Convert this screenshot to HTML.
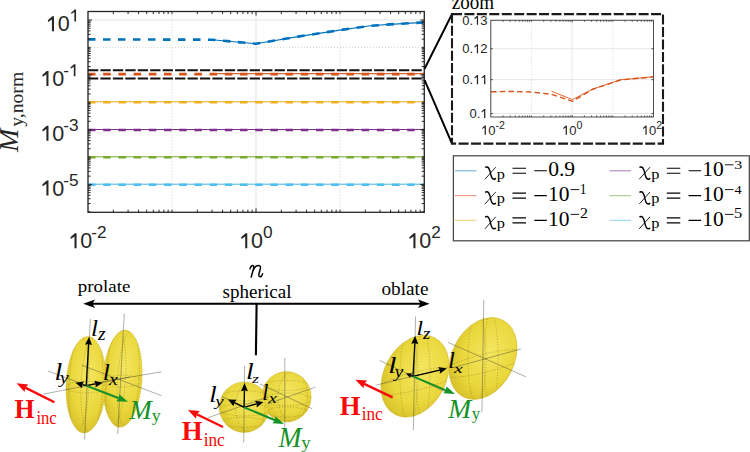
<!DOCTYPE html>
<html><head><meta charset="utf-8"><style>html,body{margin:0;padding:0;background:#fff;overflow:hidden}svg{display:block}</style></head>
<body><svg width="750" height="452" viewBox="0 0 750 452">
<defs>
<radialGradient id="yl" cx="0.55" cy="0.4" r="0.65"><stop offset="0" stop-color="#f4e660"/><stop offset="0.65" stop-color="#ead73c"/><stop offset="1" stop-color="#d4bd28"/></radialGradient>
</defs>
<rect x="0" y="0" width="750" height="452" fill="#fff"/><line x1="88.00" y1="11.5" x2="88.00" y2="212.3" stroke="#e3e3e3" stroke-width="1"/><line x1="256.00" y1="11.5" x2="256.00" y2="212.3" stroke="#e3e3e3" stroke-width="1"/><line x1="424.00" y1="11.5" x2="424.00" y2="212.3" stroke="#e3e3e3" stroke-width="1"/><line x1="172.00" y1="11.5" x2="172.00" y2="212.3" stroke="#c8c8c8" stroke-width="0.8" stroke-dasharray="1 2"/><line x1="340.00" y1="11.5" x2="340.00" y2="212.3" stroke="#c8c8c8" stroke-width="0.8" stroke-dasharray="1 2"/><line x1="88.0" y1="20.00" x2="424.3" y2="20.00" stroke="#e3e3e3" stroke-width="1"/><line x1="88.0" y1="74.80" x2="424.3" y2="74.80" stroke="#e3e3e3" stroke-width="1"/><line x1="88.0" y1="129.60" x2="424.3" y2="129.60" stroke="#e3e3e3" stroke-width="1"/><line x1="88.0" y1="184.40" x2="424.3" y2="184.40" stroke="#e3e3e3" stroke-width="1"/><line x1="88.0" y1="47.40" x2="424.3" y2="47.40" stroke="#c8c8c8" stroke-width="0.8" stroke-dasharray="1 2"/><line x1="88.0" y1="102.20" x2="424.3" y2="102.20" stroke="#c8c8c8" stroke-width="0.8" stroke-dasharray="1 2"/><line x1="88.0" y1="157.00" x2="424.3" y2="157.00" stroke="#c8c8c8" stroke-width="0.8" stroke-dasharray="1 2"/><polyline points="212.00,39.80 256.00,43.80 298.00,36.60 340.00,30.10 370.00,25.80 394.00,24.10 424.00,22.40" fill="none" stroke="#0072BD" stroke-width="1.1"/><polyline points="88.00,39.40 212.00,39.70 256.00,43.80 298.00,36.60 340.00,30.10 370.00,25.80 394.00,24.10 424.00,22.40" fill="none" stroke="#0072BD" stroke-width="2.6" stroke-dasharray="7.5 7.5"/><line x1="212" y1="73.6" x2="424.3" y2="73.6" stroke="#D95319" stroke-width="1"/><line x1="88.0" y1="74.1" x2="424.3" y2="74.1" stroke="#D95319" stroke-width="2.6" stroke-dasharray="7.5 7.7"/><line x1="88" y1="101.7" x2="424.3" y2="101.7" stroke="#EDB120" stroke-width="1"/><line x1="88.0" y1="102.2" x2="424.3" y2="102.2" stroke="#EDB120" stroke-width="2.6" stroke-dasharray="7.5 7.7"/><line x1="88" y1="129.5" x2="424.3" y2="129.5" stroke="#7E2F8E" stroke-width="1"/><line x1="88.0" y1="130.0" x2="424.3" y2="130.0" stroke="#7E2F8E" stroke-width="2.6" stroke-dasharray="7.5 7.7"/><line x1="88" y1="156.8" x2="424.3" y2="156.8" stroke="#77AC30" stroke-width="1"/><line x1="88.0" y1="157.3" x2="424.3" y2="157.3" stroke="#77AC30" stroke-width="2.6" stroke-dasharray="7.5 7.7"/><line x1="88" y1="184.2" x2="424.3" y2="184.2" stroke="#4DBEEE" stroke-width="1"/><line x1="88.0" y1="184.7" x2="424.3" y2="184.7" stroke="#4DBEEE" stroke-width="2.6" stroke-dasharray="7.5 7.7"/><line x1="88.0" y1="70.2" x2="422.3" y2="70.2" stroke="#111" stroke-width="2" stroke-dasharray="10.3 2.14"/><line x1="88.0" y1="78.4" x2="422.3" y2="78.4" stroke="#111" stroke-width="2" stroke-dasharray="10.3 2.14"/><rect x="88.0" y="11.5" width="336.30" height="200.80" fill="none" stroke="#262626" stroke-width="1.3"/><path d="M113.29,212.3v-2.6M113.29,11.5v2.6M128.08,212.3v-2.6M128.08,11.5v2.6M138.57,212.3v-2.6M138.57,11.5v2.6M146.71,212.3v-2.6M146.71,11.5v2.6M153.36,212.3v-2.6M153.36,11.5v2.6M158.99,212.3v-2.6M158.99,11.5v2.6M163.86,212.3v-2.6M163.86,11.5v2.6M168.16,212.3v-2.6M168.16,11.5v2.6M172.00,212.3v-2.6M172.00,11.5v2.6M197.29,212.3v-2.6M197.29,11.5v2.6M212.08,212.3v-2.6M212.08,11.5v2.6M222.57,212.3v-2.6M222.57,11.5v2.6M230.71,212.3v-2.6M230.71,11.5v2.6M237.36,212.3v-2.6M237.36,11.5v2.6M242.99,212.3v-2.6M242.99,11.5v2.6M247.86,212.3v-2.6M247.86,11.5v2.6M252.16,212.3v-2.6M252.16,11.5v2.6M256.00,212.3v-4.0M256.00,11.5v4.0M281.29,212.3v-2.6M281.29,11.5v2.6M296.08,212.3v-2.6M296.08,11.5v2.6M306.57,212.3v-2.6M306.57,11.5v2.6M314.71,212.3v-2.6M314.71,11.5v2.6M321.36,212.3v-2.6M321.36,11.5v2.6M326.99,212.3v-2.6M326.99,11.5v2.6M331.86,212.3v-2.6M331.86,11.5v2.6M336.16,212.3v-2.6M336.16,11.5v2.6M340.00,212.3v-2.6M340.00,11.5v2.6M365.29,212.3v-2.6M365.29,11.5v2.6M380.08,212.3v-2.6M380.08,11.5v2.6M390.57,212.3v-2.6M390.57,11.5v2.6M398.71,212.3v-2.6M398.71,11.5v2.6M405.36,212.3v-2.6M405.36,11.5v2.6M410.99,212.3v-2.6M410.99,11.5v2.6M415.86,212.3v-2.6M415.86,11.5v2.6M420.16,212.3v-2.6M420.16,11.5v2.6M88.0,211.80h2.6M424.3,211.80h-2.6M88.0,203.55h2.6M424.3,203.55h-2.6M88.0,198.73h2.6M424.3,198.73h-2.6M88.0,195.30h2.6M424.3,195.30h-2.6M88.0,192.65h2.6M424.3,192.65h-2.6M88.0,190.48h2.6M424.3,190.48h-2.6M88.0,188.64h2.6M424.3,188.64h-2.6M88.0,187.06h2.6M424.3,187.06h-2.6M88.0,185.65h2.6M424.3,185.65h-2.6M88.0,184.40h4.0M424.3,184.40h-4.0M88.0,176.15h2.6M424.3,176.15h-2.6M88.0,171.33h2.6M424.3,171.33h-2.6M88.0,167.90h2.6M424.3,167.90h-2.6M88.0,165.25h2.6M424.3,165.25h-2.6M88.0,163.08h2.6M424.3,163.08h-2.6M88.0,161.24h2.6M424.3,161.24h-2.6M88.0,159.66h2.6M424.3,159.66h-2.6M88.0,158.25h2.6M424.3,158.25h-2.6M88.0,157.00h2.6M424.3,157.00h-2.6M88.0,148.75h2.6M424.3,148.75h-2.6M88.0,143.93h2.6M424.3,143.93h-2.6M88.0,140.50h2.6M424.3,140.50h-2.6M88.0,137.85h2.6M424.3,137.85h-2.6M88.0,135.68h2.6M424.3,135.68h-2.6M88.0,133.84h2.6M424.3,133.84h-2.6M88.0,132.26h2.6M424.3,132.26h-2.6M88.0,130.85h2.6M424.3,130.85h-2.6M88.0,129.60h4.0M424.3,129.60h-4.0M88.0,121.35h2.6M424.3,121.35h-2.6M88.0,116.53h2.6M424.3,116.53h-2.6M88.0,113.10h2.6M424.3,113.10h-2.6M88.0,110.45h2.6M424.3,110.45h-2.6M88.0,108.28h2.6M424.3,108.28h-2.6M88.0,106.44h2.6M424.3,106.44h-2.6M88.0,104.86h2.6M424.3,104.86h-2.6M88.0,103.45h2.6M424.3,103.45h-2.6M88.0,102.20h2.6M424.3,102.20h-2.6M88.0,93.95h2.6M424.3,93.95h-2.6M88.0,89.13h2.6M424.3,89.13h-2.6M88.0,85.70h2.6M424.3,85.70h-2.6M88.0,83.05h2.6M424.3,83.05h-2.6M88.0,80.88h2.6M424.3,80.88h-2.6M88.0,79.04h2.6M424.3,79.04h-2.6M88.0,77.46h2.6M424.3,77.46h-2.6M88.0,76.05h2.6M424.3,76.05h-2.6M88.0,74.80h4.0M424.3,74.80h-4.0M88.0,66.55h2.6M424.3,66.55h-2.6M88.0,61.73h2.6M424.3,61.73h-2.6M88.0,58.30h2.6M424.3,58.30h-2.6M88.0,55.65h2.6M424.3,55.65h-2.6M88.0,53.48h2.6M424.3,53.48h-2.6M88.0,51.64h2.6M424.3,51.64h-2.6M88.0,50.06h2.6M424.3,50.06h-2.6M88.0,48.65h2.6M424.3,48.65h-2.6M88.0,47.40h2.6M424.3,47.40h-2.6M88.0,39.15h2.6M424.3,39.15h-2.6M88.0,34.33h2.6M424.3,34.33h-2.6M88.0,30.90h2.6M424.3,30.90h-2.6M88.0,28.25h2.6M424.3,28.25h-2.6M88.0,26.08h2.6M424.3,26.08h-2.6M88.0,24.24h2.6M424.3,24.24h-2.6M88.0,22.66h2.6M424.3,22.66h-2.6M88.0,21.25h2.6M424.3,21.25h-2.6M88.0,20.00h4.0M424.3,20.00h-4.0" stroke="#262626" stroke-width="1" fill="none"/><path d="M53.97,31.30L53.97,16.25L52.25,16.25L47.80,20.25L48.16,22.05L51.91,19.48L51.91,31.30Z" fill="#262626"/><text x="57.75" y="31.30" style="font-family:'Liberation Sans',sans-serif;font-size:21.5px" fill="#262626">0</text><path d="M76.04,21.50L76.04,9.46L74.66,9.46L71.10,12.66L71.39,14.10L74.38,12.04L74.38,21.50Z" fill="#262626"/><path d="M48.47,86.00L48.47,70.95L46.75,70.95L42.30,74.95L42.66,76.75L46.41,74.17L46.41,86.00Z" fill="#262626"/><text x="52.25" y="86.00" style="font-family:'Liberation Sans',sans-serif;font-size:21.5px" fill="#262626">0</text><text x="63.20" y="76.20" style="font-family:'Liberation Sans',sans-serif;font-size:17.2px" fill="#262626">-</text><path d="M75.46,76.20L75.46,64.16L74.09,64.16L70.53,67.36L70.82,68.80L73.81,66.74L73.81,76.20Z" fill="#262626"/><path d="M48.47,140.80L48.47,125.75L46.75,125.75L42.30,129.75L42.66,131.56L46.41,128.98L46.41,140.80Z" fill="#262626"/><text x="52.25" y="140.80" style="font-family:'Liberation Sans',sans-serif;font-size:21.5px" fill="#262626">0</text><text x="63.20" y="131.00" style="font-family:'Liberation Sans',sans-serif;font-size:17.2px" fill="#262626">-</text><text x="68.93" y="131.00" style="font-family:'Liberation Sans',sans-serif;font-size:17.2px" fill="#262626">3</text><path d="M48.47,195.60L48.47,180.55L46.75,180.55L42.30,184.55L42.66,186.35L46.41,183.78L46.41,195.60Z" fill="#262626"/><text x="52.25" y="195.60" style="font-family:'Liberation Sans',sans-serif;font-size:21.5px" fill="#262626">0</text><text x="63.20" y="185.80" style="font-family:'Liberation Sans',sans-serif;font-size:17.2px" fill="#262626">-</text><text x="68.93" y="185.80" style="font-family:'Liberation Sans',sans-serif;font-size:17.2px" fill="#262626">5</text><path d="M76.57,248.30L76.57,233.25L74.85,233.25L70.40,237.25L70.77,239.06L74.51,236.48L74.51,248.30Z" fill="#262626"/><text x="80.35" y="248.30" style="font-family:'Liberation Sans',sans-serif;font-size:21.5px" fill="#262626">0</text><text x="91.20" y="237.90" style="font-family:'Liberation Sans',sans-serif;font-size:17.2px" fill="#262626">-</text><text x="96.93" y="237.90" style="font-family:'Liberation Sans',sans-serif;font-size:17.2px" fill="#262626">2</text><path d="M247.27,248.30L247.27,233.25L245.55,233.25L241.10,237.25L241.47,239.06L245.21,236.48L245.21,248.30Z" fill="#262626"/><text x="251.05" y="248.30" style="font-family:'Liberation Sans',sans-serif;font-size:21.5px" fill="#262626">0</text><text x="263.10" y="237.90" style="font-family:'Liberation Sans',sans-serif;font-size:17.2px" fill="#262626">0</text><path d="M415.47,248.30L415.47,233.25L413.75,233.25L409.30,237.25L409.66,239.06L413.41,236.48L413.41,248.30Z" fill="#262626"/><text x="419.25" y="248.30" style="font-family:'Liberation Sans',sans-serif;font-size:21.5px" fill="#262626">0</text><text x="431.30" y="237.90" style="font-family:'Liberation Sans',sans-serif;font-size:17.2px" fill="#262626">2</text><g transform="translate(17.9,152) rotate(-90)"><text x="0.00" y="0.00" style="font-family:'Liberation Serif',serif;font-style:italic;font-size:28px" fill="#262626" text-anchor="start" textLength="23.30" lengthAdjust="spacingAndGlyphs">M</text><text x="25.20" y="5.00" style="font-family:'Liberation Serif',serif;font-size:19px" fill="#262626" text-anchor="start" textLength="55.00" lengthAdjust="spacingAndGlyphs">y,norm</text></g><path d="M424.6,68.7L452,14.1M424.6,80.2L452,143.6" stroke="#000" stroke-width="2" fill="none"/><rect x="452" y="14.1" width="211" height="129.5" fill="none" stroke="#1a1a1a" stroke-width="2.1" stroke-dasharray="10 2.44"/><text transform="translate(451.73,8.80) scale(0.952,1)" style="font-family:'Liberation Serif',serif;font-size:20.00px;font-style:normal;font-weight:normal" fill="#000">zoom</text><line x1="490.80" y1="20.29" x2="490.80" y2="117.0" stroke="#e3e3e3" stroke-width="0.9"/><line x1="572.15" y1="20.29" x2="572.15" y2="117.0" stroke="#e3e3e3" stroke-width="0.9"/><line x1="653.50" y1="20.29" x2="653.50" y2="117.0" stroke="#e3e3e3" stroke-width="0.9"/><line x1="531.48" y1="20.29" x2="531.48" y2="117.0" stroke="#c8c8c8" stroke-width="0.7" stroke-dasharray="1 2"/><line x1="612.83" y1="20.29" x2="612.83" y2="117.0" stroke="#c8c8c8" stroke-width="0.7" stroke-dasharray="1 2"/><line x1="490.8" y1="113.50" x2="653.5" y2="113.50" stroke="#e3e3e3" stroke-width="0.9"/><line x1="490.8" y1="79.64" x2="653.5" y2="79.64" stroke="#e3e3e3" stroke-width="0.9"/><line x1="490.8" y1="48.73" x2="653.5" y2="48.73" stroke="#e3e3e3" stroke-width="0.9"/><line x1="490.8" y1="20.29" x2="653.5" y2="20.29" stroke="#e3e3e3" stroke-width="0.9"/><polyline points="551.50,91.30 572.50,99.60 592.30,89.20 620.30,79.80 653.00,76.80" fill="none" stroke="#D95319" stroke-width="0.9"/><polyline points="491.00,91.80 510.00,91.40 531.70,92.00 551.50,94.30 572.50,101.30 592.30,89.50 620.30,80.00 653.00,76.90" fill="none" stroke="#D95319" stroke-width="1.4" stroke-dasharray="5.5 3.2"/><rect x="490.8" y="20.29" width="162.70" height="96.71" fill="none" stroke="#505050" stroke-width="1"/><path d="M503.04,117.0v-1.4M503.04,20.29v1.4M510.21,117.0v-1.4M510.21,20.29v1.4M515.29,117.0v-1.4M515.29,20.29v1.4M519.23,117.0v-1.4M519.23,20.29v1.4M522.45,117.0v-1.4M522.45,20.29v1.4M525.17,117.0v-1.4M525.17,20.29v1.4M527.53,117.0v-1.4M527.53,20.29v1.4M529.61,117.0v-1.4M529.61,20.29v1.4M531.48,117.0v-1.4M531.48,20.29v1.4M543.72,117.0v-1.4M543.72,20.29v1.4M550.88,117.0v-1.4M550.88,20.29v1.4M555.96,117.0v-1.4M555.96,20.29v1.4M559.91,117.0v-1.4M559.91,20.29v1.4M563.13,117.0v-1.4M563.13,20.29v1.4M565.85,117.0v-1.4M565.85,20.29v1.4M568.21,117.0v-1.4M568.21,20.29v1.4M570.29,117.0v-1.4M570.29,20.29v1.4M572.15,117.0v-2.0M572.15,20.29v2.0M584.39,117.0v-1.4M584.39,20.29v1.4M591.56,117.0v-1.4M591.56,20.29v1.4M596.64,117.0v-1.4M596.64,20.29v1.4M600.58,117.0v-1.4M600.58,20.29v1.4M603.80,117.0v-1.4M603.80,20.29v1.4M606.52,117.0v-1.4M606.52,20.29v1.4M608.88,117.0v-1.4M608.88,20.29v1.4M610.96,117.0v-1.4M610.96,20.29v1.4M612.83,117.0v-1.4M612.83,20.29v1.4M625.07,117.0v-1.4M625.07,20.29v1.4M632.23,117.0v-1.4M632.23,20.29v1.4M637.31,117.0v-1.4M637.31,20.29v1.4M641.26,117.0v-1.4M641.26,20.29v1.4M644.48,117.0v-1.4M644.48,20.29v1.4M647.20,117.0v-1.4M647.20,20.29v1.4M649.56,117.0v-1.4M649.56,20.29v1.4M651.64,117.0v-1.4M651.64,20.29v1.4M490.8,113.50h2M653.5,113.50h-2M490.8,79.64h2M653.5,79.64h-2M490.8,48.73h2M653.5,48.73h-2" stroke="#333" stroke-width="0.9" fill="none"/><text x="462.30" y="24.79" style="font-family:'Liberation Sans',sans-serif;font-size:13.0px" fill="#262626">0</text><text x="469.53" y="24.79" style="font-family:'Liberation Sans',sans-serif;font-size:13.0px" fill="#262626">.</text><path d="M478.08,24.79L478.08,15.69L477.04,15.69L474.35,18.11L474.57,19.20L476.84,17.64L476.84,24.79Z" fill="#262626"/><text x="480.37" y="24.79" style="font-family:'Liberation Sans',sans-serif;font-size:13.0px" fill="#262626">3</text><text x="462.30" y="53.23" style="font-family:'Liberation Sans',sans-serif;font-size:13.0px" fill="#262626">0</text><text x="469.53" y="53.23" style="font-family:'Liberation Sans',sans-serif;font-size:13.0px" fill="#262626">.</text><path d="M478.08,53.23L478.08,44.13L477.04,44.13L474.35,46.55L474.57,47.64L476.84,46.08L476.84,53.23Z" fill="#262626"/><text x="480.37" y="53.23" style="font-family:'Liberation Sans',sans-serif;font-size:13.0px" fill="#262626">2</text><text x="462.30" y="84.14" style="font-family:'Liberation Sans',sans-serif;font-size:13.0px" fill="#262626">0</text><text x="469.53" y="84.14" style="font-family:'Liberation Sans',sans-serif;font-size:13.0px" fill="#262626">.</text><path d="M478.08,84.14L478.08,75.04L477.04,75.04L474.35,77.46L474.57,78.55L476.84,76.99L476.84,84.14Z" fill="#262626"/><path d="M485.31,84.14L485.31,75.04L484.27,75.04L481.58,77.46L481.80,78.55L484.06,76.99L484.06,84.14Z" fill="#262626"/><text x="469.53" y="118.00" style="font-family:'Liberation Sans',sans-serif;font-size:13.0px" fill="#262626">0</text><text x="476.76" y="118.00" style="font-family:'Liberation Sans',sans-serif;font-size:13.0px" fill="#262626">.</text><path d="M485.31,118.00L485.31,108.90L484.27,108.90L481.58,111.32L481.80,112.41L484.06,110.85L484.06,118.00Z" fill="#262626"/><path d="M485.90,134.70L485.90,125.60L484.86,125.60L482.17,128.02L482.39,129.11L484.65,127.55L484.65,134.70Z" fill="#262626"/><text x="488.19" y="134.70" style="font-family:'Liberation Sans',sans-serif;font-size:13.0px" fill="#262626">0</text><text x="495.42" y="128.70" style="font-family:'Liberation Sans',sans-serif;font-size:10.6px" fill="#262626">-</text><text x="498.95" y="128.70" style="font-family:'Liberation Sans',sans-serif;font-size:10.6px" fill="#262626">2</text><path d="M566.92,134.70L566.92,125.60L565.88,125.60L563.18,128.02L563.41,129.11L565.67,127.55L565.67,134.70Z" fill="#262626"/><text x="569.20" y="134.70" style="font-family:'Liberation Sans',sans-serif;font-size:13.0px" fill="#262626">0</text><text x="576.43" y="128.70" style="font-family:'Liberation Sans',sans-serif;font-size:10.6px" fill="#262626">0</text><path d="M646.67,134.70L646.67,125.60L645.63,125.60L642.93,128.02L643.16,129.11L645.42,127.55L645.42,134.70Z" fill="#262626"/><text x="648.95" y="134.70" style="font-family:'Liberation Sans',sans-serif;font-size:13.0px" fill="#262626">0</text><text x="656.18" y="128.70" style="font-family:'Liberation Sans',sans-serif;font-size:10.6px" fill="#262626">2</text><rect x="453.4" y="155.8" width="295.9" height="85.0" fill="#fff" stroke="#484848" stroke-width="1.25"/><line x1="455" y1="170.80" x2="476.5" y2="170.80" stroke="#7fb8de" stroke-width="1.2"/><g transform="translate(482.00,164.00)"><path d="M3.2,3.6C4,2.8 5.5,2.6 6.6,4C7.8,5.6 8.3,8 8.8,10.5C9.4,13 10.3,14.9 11.8,15.2C12.7,15.3 13.4,14.8 13.7,14.1" stroke="#000" stroke-width="1.45" fill="none"/><path d="M13.7,3.2L2.9,15.3" stroke="#000" stroke-width="0.85" fill="none"/></g><text transform="translate(496.87,178.50) scale(1.099,1)" style="font-family:'Liberation Serif',serif;font-size:14.89px;font-style:normal;font-weight:normal" fill="#000">p</text><path d="M512.50,168.30H526.00M512.50,173.30H526.00M534.30,170.80H546.80" stroke="#000" stroke-width="1.1" fill="none"/><text transform="translate(548.14,176.10) scale(1.019,1)" style="font-family:'Liberation Serif',serif;font-size:21.21px;font-style:normal;font-weight:normal" fill="#000">0.9</text><line x1="455" y1="195.60" x2="476.5" y2="195.60" stroke="#ec9f80" stroke-width="1.2"/><g transform="translate(482.00,188.80)"><path d="M3.2,3.6C4,2.8 5.5,2.6 6.6,4C7.8,5.6 8.3,8 8.8,10.5C9.4,13 10.3,14.9 11.8,15.2C12.7,15.3 13.4,14.8 13.7,14.1" stroke="#000" stroke-width="1.45" fill="none"/><path d="M13.7,3.2L2.9,15.3" stroke="#000" stroke-width="0.85" fill="none"/></g><text transform="translate(496.87,203.30) scale(1.099,1)" style="font-family:'Liberation Serif',serif;font-size:14.89px;font-style:normal;font-weight:normal" fill="#000">p</text><path d="M512.50,193.10H526.00M512.50,198.10H526.00M534.30,195.60H546.80" stroke="#000" stroke-width="1.1" fill="none"/><text transform="translate(548.07,200.90) scale(0.999,1)" style="font-family:'Liberation Serif',serif;font-size:21.52px;font-style:normal;font-weight:normal" fill="#000">10</text><path d="M570.60,189.60H579.20" stroke="#000" stroke-width="0.9" fill="none"/><text transform="translate(579.79,193.60) scale(0.974,1)" style="font-family:'Liberation Serif',serif;font-size:13.79px;font-style:normal;font-weight:normal" fill="#000">1</text><line x1="455" y1="220.40" x2="476.5" y2="220.40" stroke="#f5d78a" stroke-width="1.2"/><g transform="translate(482.00,213.60)"><path d="M3.2,3.6C4,2.8 5.5,2.6 6.6,4C7.8,5.6 8.3,8 8.8,10.5C9.4,13 10.3,14.9 11.8,15.2C12.7,15.3 13.4,14.8 13.7,14.1" stroke="#000" stroke-width="1.45" fill="none"/><path d="M13.7,3.2L2.9,15.3" stroke="#000" stroke-width="0.85" fill="none"/></g><text transform="translate(496.87,228.10) scale(1.099,1)" style="font-family:'Liberation Serif',serif;font-size:14.89px;font-style:normal;font-weight:normal" fill="#000">p</text><path d="M512.50,217.90H526.00M512.50,222.90H526.00M534.30,220.40H546.80" stroke="#000" stroke-width="1.1" fill="none"/><text transform="translate(548.07,225.70) scale(0.999,1)" style="font-family:'Liberation Serif',serif;font-size:21.52px;font-style:normal;font-weight:normal" fill="#000">10</text><path d="M570.60,214.40H579.20" stroke="#000" stroke-width="0.9" fill="none"/><text transform="translate(579.96,218.40) scale(1.169,1)" style="font-family:'Liberation Serif',serif;font-size:13.69px;font-style:normal;font-weight:normal" fill="#000">2</text><line x1="609.5" y1="170.80" x2="631.0" y2="170.80" stroke="#b690be" stroke-width="1.2"/><g transform="translate(636.30,164.00)"><path d="M3.2,3.6C4,2.8 5.5,2.6 6.6,4C7.8,5.6 8.3,8 8.8,10.5C9.4,13 10.3,14.9 11.8,15.2C12.7,15.3 13.4,14.8 13.7,14.1" stroke="#000" stroke-width="1.45" fill="none"/><path d="M13.7,3.2L2.9,15.3" stroke="#000" stroke-width="0.85" fill="none"/></g><text transform="translate(651.17,178.50) scale(1.099,1)" style="font-family:'Liberation Serif',serif;font-size:14.89px;font-style:normal;font-weight:normal" fill="#000">p</text><path d="M666.80,168.30H680.30M666.80,173.30H680.30M688.60,170.80H701.10" stroke="#000" stroke-width="1.1" fill="none"/><text transform="translate(702.37,176.10) scale(0.999,1)" style="font-family:'Liberation Serif',serif;font-size:21.52px;font-style:normal;font-weight:normal" fill="#000">10</text><path d="M724.90,164.80H733.50" stroke="#000" stroke-width="0.9" fill="none"/><text transform="translate(734.26,168.80) scale(1.187,1)" style="font-family:'Liberation Serif',serif;font-size:13.48px;font-style:normal;font-weight:normal" fill="#000">3</text><line x1="609.5" y1="195.60" x2="631.0" y2="195.60" stroke="#b0d290" stroke-width="1.2"/><g transform="translate(636.30,188.80)"><path d="M3.2,3.6C4,2.8 5.5,2.6 6.6,4C7.8,5.6 8.3,8 8.8,10.5C9.4,13 10.3,14.9 11.8,15.2C12.7,15.3 13.4,14.8 13.7,14.1" stroke="#000" stroke-width="1.45" fill="none"/><path d="M13.7,3.2L2.9,15.3" stroke="#000" stroke-width="0.85" fill="none"/></g><text transform="translate(651.17,203.30) scale(1.099,1)" style="font-family:'Liberation Serif',serif;font-size:14.89px;font-style:normal;font-weight:normal" fill="#000">p</text><path d="M666.80,193.10H680.30M666.80,198.10H680.30M688.60,195.60H701.10" stroke="#000" stroke-width="1.1" fill="none"/><text transform="translate(702.37,200.90) scale(0.999,1)" style="font-family:'Liberation Serif',serif;font-size:21.52px;font-style:normal;font-weight:normal" fill="#000">10</text><path d="M724.90,189.60H733.50" stroke="#000" stroke-width="0.9" fill="none"/><text transform="translate(734.62,193.60) scale(1.055,1)" style="font-family:'Liberation Serif',serif;font-size:13.48px;font-style:normal;font-weight:normal" fill="#000">4</text><line x1="609.5" y1="220.40" x2="631.0" y2="220.40" stroke="#a0dcf6" stroke-width="1.2"/><g transform="translate(636.30,213.60)"><path d="M3.2,3.6C4,2.8 5.5,2.6 6.6,4C7.8,5.6 8.3,8 8.8,10.5C9.4,13 10.3,14.9 11.8,15.2C12.7,15.3 13.4,14.8 13.7,14.1" stroke="#000" stroke-width="1.45" fill="none"/><path d="M13.7,3.2L2.9,15.3" stroke="#000" stroke-width="0.85" fill="none"/></g><text transform="translate(651.17,228.10) scale(1.099,1)" style="font-family:'Liberation Serif',serif;font-size:14.89px;font-style:normal;font-weight:normal" fill="#000">p</text><path d="M666.80,217.90H680.30M666.80,222.90H680.30M688.60,220.40H701.10" stroke="#000" stroke-width="1.1" fill="none"/><text transform="translate(702.37,225.70) scale(0.999,1)" style="font-family:'Liberation Serif',serif;font-size:21.52px;font-style:normal;font-weight:normal" fill="#000">10</text><path d="M724.90,214.40H733.50" stroke="#000" stroke-width="0.9" fill="none"/><text transform="translate(734.08,218.40) scale(1.199,1)" style="font-family:'Liberation Serif',serif;font-size:13.69px;font-style:normal;font-weight:normal" fill="#000">5</text><g transform="translate(249.7,265.1)"><path d="M0.4,3.6C0.9,1.2 2.4,0.2 3.4,0.6C4.3,1.0 4.2,2.2 3.9,3.4L1.5,11.9M2.8,7.0C4.2,2.5 6.6,0.3 8.9,0.4C10.8,0.5 11.0,2.0 10.6,3.6L9.3,8.6C8.9,10.3 9.2,11.7 10.3,11.7C11.5,11.7 12.4,10.3 12.9,8.6" stroke="#000" stroke-width="1.45" fill="none" stroke-linecap="round"/></g><text transform="translate(77.72,291.90) scale(1.080,1)" style="font-family:'Liberation Serif',serif;font-size:17.54px;font-style:normal;font-weight:normal" fill="#000">prolate</text><text transform="translate(222.54,297.90) scale(1.006,1)" style="font-family:'Liberation Serif',serif;font-size:18.99px;font-style:normal;font-weight:normal" fill="#000">spherical</text><text transform="translate(381.43,295.00) scale(1.071,1)" style="font-family:'Liberation Serif',serif;font-size:17.97px;font-style:normal;font-weight:normal" fill="#000">oblate</text><path d="M92,303.8H421M256.6,303.8L255.9,355.2" stroke="#000" stroke-width="2.1" fill="none"/><path d="M83.2,303.8L95,299.5L92.5,303.8L95,308.1Z" fill="#000"/><path d="M429.6,303.8L418,299.5L420.5,303.8L418,308.1Z" fill="#000"/><clipPath id="ec1"><ellipse cx="122.5" cy="378.7" rx="19.4" ry="48.7" transform="rotate(3.5 122.5 378.7)"/></clipPath><ellipse cx="122.5" cy="378.7" rx="19.4" ry="48.7" transform="rotate(3.5 122.5 378.7)" fill="url(#yl)" stroke="#cdb626" stroke-width="0.5"/><g clip-path="url(#ec1)"><ellipse cx="128.32" cy="378.70" rx="10.67" ry="48.21" transform="rotate(3.5 122.5 378.7)" fill="none" stroke="#5e5410" stroke-opacity="0.5" stroke-width="0.6" stroke-dasharray="1.2 1.5"/><ellipse cx="115.71" cy="378.70" rx="9.70" ry="48.21" transform="rotate(3.5 122.5 378.7)" fill="none" stroke="#5e5410" stroke-opacity="0.5" stroke-width="0.6" stroke-dasharray="1.2 1.5" stroke-opacity="0.3"/><ellipse cx="122.50" cy="381.13" rx="19.40" ry="5.84" fill="none" stroke="#5e5410" stroke-opacity="0.5" stroke-width="0.6" stroke-dasharray="1.2 1.5" stroke-opacity="0.3"/></g><clipPath id="ec2"><ellipse cx="86" cy="384.7" rx="19.9" ry="48.3" transform="rotate(2.5 86 384.7)"/></clipPath><ellipse cx="86" cy="384.7" rx="19.9" ry="48.3" transform="rotate(2.5 86 384.7)" fill="url(#yl)" stroke="#cdb626" stroke-width="0.5"/><g clip-path="url(#ec2)"><ellipse cx="91.97" cy="384.70" rx="10.95" ry="47.82" transform="rotate(2.5 86 384.7)" fill="none" stroke="#5e5410" stroke-opacity="0.5" stroke-width="0.6" stroke-dasharray="1.2 1.5"/><ellipse cx="79.03" cy="384.70" rx="9.95" ry="47.82" transform="rotate(2.5 86 384.7)" fill="none" stroke="#5e5410" stroke-opacity="0.5" stroke-width="0.6" stroke-dasharray="1.2 1.5" stroke-opacity="0.3"/><ellipse cx="86.00" cy="387.12" rx="19.90" ry="5.80" fill="none" stroke="#5e5410" stroke-opacity="0.5" stroke-width="0.6" stroke-dasharray="1.2 1.5" stroke-opacity="0.3"/></g><clipPath id="ec3"><ellipse cx="286.5" cy="396.8" rx="24.6" ry="25.2" transform="rotate(0 286.5 396.8)"/></clipPath><ellipse cx="286.5" cy="396.8" rx="24.6" ry="25.2" transform="rotate(0 286.5 396.8)" fill="url(#yl)" stroke="#cdb626" stroke-width="0.5"/><g clip-path="url(#ec3)"><ellipse cx="292.65" cy="396.80" rx="14.76" ry="24.95" fill="none" stroke="#5e5410" stroke-opacity="0.5" stroke-width="0.6" stroke-dasharray="1.2 1.5"/><ellipse cx="286.50" cy="385.46" rx="22.14" ry="5.04" fill="none" stroke="#5e5410" stroke-opacity="0.5" stroke-width="0.6" stroke-dasharray="1.2 1.5" stroke-opacity="0.35"/><ellipse cx="286.50" cy="399.32" rx="24.60" ry="6.30" fill="none" stroke="#5e5410" stroke-opacity="0.5" stroke-width="0.6" stroke-dasharray="1.2 1.5"/><ellipse cx="286.50" cy="411.92" rx="20.91" ry="5.04" fill="none" stroke="#5e5410" stroke-opacity="0.5" stroke-width="0.6" stroke-dasharray="1.2 1.5" stroke-opacity="0.35"/></g><clipPath id="ec4"><ellipse cx="244.2" cy="407.2" rx="24.9" ry="25.2" transform="rotate(0 244.2 407.2)"/></clipPath><ellipse cx="244.2" cy="407.2" rx="24.9" ry="25.2" transform="rotate(0 244.2 407.2)" fill="url(#yl)" stroke="#cdb626" stroke-width="0.5"/><g clip-path="url(#ec4)"><ellipse cx="250.42" cy="407.20" rx="14.94" ry="24.95" fill="none" stroke="#5e5410" stroke-opacity="0.5" stroke-width="0.6" stroke-dasharray="1.2 1.5"/><ellipse cx="244.20" cy="395.86" rx="22.41" ry="5.04" fill="none" stroke="#5e5410" stroke-opacity="0.5" stroke-width="0.6" stroke-dasharray="1.2 1.5" stroke-opacity="0.35"/><ellipse cx="244.20" cy="409.72" rx="24.90" ry="6.30" fill="none" stroke="#5e5410" stroke-opacity="0.5" stroke-width="0.6" stroke-dasharray="1.2 1.5"/><ellipse cx="244.20" cy="422.32" rx="21.16" ry="5.04" fill="none" stroke="#5e5410" stroke-opacity="0.5" stroke-width="0.6" stroke-dasharray="1.2 1.5" stroke-opacity="0.35"/></g><clipPath id="ec5"><ellipse cx="483" cy="358.5" rx="31.1" ry="43.2" transform="rotate(27.4 483 358.5)"/></clipPath><ellipse cx="483" cy="358.5" rx="31.1" ry="43.2" transform="rotate(27.4 483 358.5)" fill="url(#yl)" stroke="#cdb626" stroke-width="0.5"/><g clip-path="url(#ec5)"><ellipse cx="477.00" cy="358.50" rx="9" ry="45.36" fill="none" stroke="#5e5410" stroke-opacity="0.5" stroke-width="0.6" stroke-dasharray="1.2 1.5"/><ellipse cx="491.00" cy="358.50" rx="7" ry="45.36" fill="none" stroke="#5e5410" stroke-opacity="0.5" stroke-width="0.6" stroke-dasharray="1.2 1.5" stroke-opacity="0.35"/><ellipse cx="483.00" cy="363.50" rx="45.36" ry="9" transform="rotate(-14 483 358.5)" fill="none" stroke="#5e5410" stroke-opacity="0.5" stroke-width="0.6" stroke-dasharray="1.2 1.5" stroke-opacity="0.4"/></g><clipPath id="ec6"><ellipse cx="415" cy="376.2" rx="31.1" ry="43.2" transform="rotate(27.4 415 376.2)"/></clipPath><ellipse cx="415" cy="376.2" rx="31.1" ry="43.2" transform="rotate(27.4 415 376.2)" fill="url(#yl)" stroke="#cdb626" stroke-width="0.5"/><g clip-path="url(#ec6)"><ellipse cx="409.00" cy="376.20" rx="9" ry="45.36" fill="none" stroke="#5e5410" stroke-opacity="0.5" stroke-width="0.6" stroke-dasharray="1.2 1.5"/><ellipse cx="423.00" cy="376.20" rx="7" ry="45.36" fill="none" stroke="#5e5410" stroke-opacity="0.5" stroke-width="0.6" stroke-dasharray="1.2 1.5" stroke-opacity="0.35"/><ellipse cx="415.00" cy="381.20" rx="45.36" ry="9" transform="rotate(-14 415 376.2)" fill="none" stroke="#5e5410" stroke-opacity="0.5" stroke-width="0.6" stroke-dasharray="1.2 1.5" stroke-opacity="0.4"/></g><path d="M124.3,313.5L117.7,434M81.8,365.2L161.5,395.7M92,383.5L161.5,371.8" stroke="#404030" stroke-opacity="0.6" stroke-width="0.7" fill="none"/><path d="M90.4,319L84.5,439.6M47.9,371L110,394.3M43.2,394.2L130,377" stroke="#404030" stroke-opacity="0.6" stroke-width="0.7" fill="none"/><path d="M284.8,357.9L284.8,428M260,383.9L311.9,408.7M266.7,404.2L315.3,387.2" stroke="#404030" stroke-opacity="0.6" stroke-width="0.7" fill="none"/><path d="M244.6,365.8L243.7,442.6M208,417.7L268,397M222,396.5L270,419" stroke="#404030" stroke-opacity="0.6" stroke-width="0.7" fill="none"/><path d="M483.8,300L481.9,412.3M448,342.4L526.2,376.9M453.3,367.6L520.9,349" stroke="#404030" stroke-opacity="0.6" stroke-width="0.7" fill="none"/><path d="M415.5,316.5L413.4,430M376.4,385.1L447,368M379.5,360.4L447,392.7" stroke="#404030" stroke-opacity="0.6" stroke-width="0.7" fill="none"/><path d="M86.20,385.70L88.60,343.93" stroke="#000" stroke-width="1.3" fill="none"/><path d="M89.00,336.90L92.04,345.09L88.60,343.93L85.05,344.69Z" fill="#000"/><path d="M86.20,385.70L82.18,384.58" stroke="#000" stroke-width="1.3" fill="none"/><path d="M75.40,382.70L84.04,381.47L82.18,384.58L82.17,388.21Z" fill="#000"/><path d="M86.20,385.70L95.77,383.96" stroke="#000" stroke-width="1.3" fill="none"/><path d="M102.70,382.70L95.46,387.57L95.77,383.96L94.20,380.69Z" fill="#000"/><path d="M244.10,407.30L244.45,390.34" stroke="#000" stroke-width="1.3" fill="none"/><path d="M244.60,383.30L247.93,391.37L244.45,390.34L240.93,391.23Z" fill="#000"/><path d="M244.10,407.30L234.26,402.62" stroke="#000" stroke-width="1.3" fill="none"/><path d="M227.90,399.60L236.63,399.87L234.26,402.62L233.62,406.20Z" fill="#000"/><path d="M244.10,407.30L256.72,403.79" stroke="#000" stroke-width="1.3" fill="none"/><path d="M263.50,401.90L256.73,407.42L256.72,403.79L254.85,400.67Z" fill="#000"/><path d="M413.00,376.40L414.82,343.03" stroke="#000" stroke-width="1.3" fill="none"/><path d="M415.20,336.00L418.26,344.18L414.82,343.03L411.27,343.80Z" fill="#000"/><path d="M413.00,376.40L410.59,375.41" stroke="#000" stroke-width="1.3" fill="none"/><path d="M405.90,373.50L412.18,373.35L410.59,375.41L410.27,378.00Z" fill="#000"/><path d="M413.00,376.40L439.94,370.18" stroke="#000" stroke-width="1.3" fill="none"/><path d="M446.80,368.60L439.79,373.81L439.94,370.18L438.22,366.99Z" fill="#000"/><path d="M86.20,385.60L118.97,398.30" stroke="#159125" stroke-width="2.0" fill="none"/><path d="M128.00,401.80L116.39,401.32L118.97,398.30L119.10,394.33Z" fill="#159125"/><path d="M244.10,407.30L275.07,420.26" stroke="#159125" stroke-width="2.0" fill="none"/><path d="M284.00,424.00L272.41,423.21L275.07,420.26L275.30,416.29Z" fill="#159125"/><path d="M413.00,376.40L446.08,390.34" stroke="#159125" stroke-width="2.0" fill="none"/><path d="M455.00,394.10L443.41,393.28L446.08,390.34L446.32,386.37Z" fill="#159125"/><path d="M54.40,402.20L25.26,387.63" stroke="#f80808" stroke-width="2.3" fill="none"/><path d="M16.60,383.30L28.34,384.42L25.26,387.63L24.54,392.02Z" fill="#f80808"/><path d="M223.00,427.00L196.71,414.23" stroke="#f80808" stroke-width="2.3" fill="none"/><path d="M188.00,410.00L199.75,410.98L196.71,414.23L196.04,418.63Z" fill="#f80808"/><path d="M392.60,397.40L364.14,383.86" stroke="#f80808" stroke-width="2.3" fill="none"/><path d="M355.40,379.70L367.16,380.59L364.14,383.86L363.51,388.26Z" fill="#f80808"/><text transform="translate(90.97,335.50) scale(1.054,1)" style="font-family:'Liberation Serif',serif;font-size:23.91px;font-style:italic;font-weight:normal" fill="#000">l</text><text transform="translate(97.89,339.50) scale(1.055,1)" style="font-family:'Liberation Serif',serif;font-size:18.48px;font-style:italic;font-weight:normal" fill="#000">z</text><text transform="translate(54.40,379.70) scale(1.143,1)" style="font-family:'Liberation Serif',serif;font-size:24.49px;font-style:italic;font-weight:normal" fill="#000">l</text><text transform="translate(59.70,383.25) scale(1.231,1)" style="font-family:'Liberation Serif',serif;font-size:16.42px;font-style:italic;font-weight:normal" fill="#000">y</text><text transform="translate(102.86,380.10) scale(1.084,1)" style="font-family:'Liberation Serif',serif;font-size:23.62px;font-style:italic;font-weight:normal" fill="#000">l</text><text transform="translate(108.90,384.70) scale(1.137,1)" style="font-family:'Liberation Serif',serif;font-size:17.39px;font-style:italic;font-weight:normal" fill="#000">x</text><text transform="translate(246.01,379.40) scale(1.237,1)" style="font-family:'Liberation Serif',serif;font-size:22.32px;font-style:italic;font-weight:normal" fill="#000">l</text><text transform="translate(252.08,383.30) scale(1.529,1)" style="font-family:'Liberation Serif',serif;font-size:11.74px;font-style:italic;font-weight:normal" fill="#000">z</text><text transform="translate(209.13,401.90) scale(1.193,1)" style="font-family:'Liberation Serif',serif;font-size:22.46px;font-style:italic;font-weight:normal" fill="#000">l</text><text transform="translate(215.31,406.47) scale(1.272,1)" style="font-family:'Liberation Serif',serif;font-size:14.93px;font-style:italic;font-weight:normal" fill="#000">y</text><text transform="translate(262.35,400.30) scale(0.931,1)" style="font-family:'Liberation Serif',serif;font-size:23.62px;font-style:italic;font-weight:normal" fill="#000">l</text><text transform="translate(268.39,403.40) scale(1.259,1)" style="font-family:'Liberation Serif',serif;font-size:15.00px;font-style:italic;font-weight:normal" fill="#000">x</text><text transform="translate(416.51,334.50) scale(1.086,1)" style="font-family:'Liberation Serif',serif;font-size:21.74px;font-style:italic;font-weight:normal" fill="#000">l</text><text transform="translate(422.99,338.70) scale(1.179,1)" style="font-family:'Liberation Serif',serif;font-size:16.09px;font-style:italic;font-weight:normal" fill="#000">z</text><text transform="translate(388.16,372.80) scale(1.277,1)" style="font-family:'Liberation Serif',serif;font-size:23.19px;font-style:italic;font-weight:normal" fill="#000">l</text><text transform="translate(394.40,376.72) scale(1.195,1)" style="font-family:'Liberation Serif',serif;font-size:16.57px;font-style:italic;font-weight:normal" fill="#000">y</text><text transform="translate(448.31,368.40) scale(1.044,1)" style="font-family:'Liberation Serif',serif;font-size:22.61px;font-style:italic;font-weight:normal" fill="#000">l</text><text transform="translate(454.10,373.10) scale(1.467,1)" style="font-family:'Liberation Serif',serif;font-size:13.48px;font-style:italic;font-weight:normal" fill="#000">x</text><text transform="translate(14.58,417.70) scale(0.975,1)" style="font-family:'Liberation Serif',serif;font-size:26.46px;font-style:normal;font-weight:bold" fill="#f80808">H</text><text transform="translate(36.47,423.60) scale(0.891,1)" style="font-family:'Liberation Serif',serif;font-size:18.62px;font-style:normal;font-weight:normal" fill="#f80808">inc</text><text transform="translate(181.86,440.40) scale(1.005,1)" style="font-family:'Liberation Serif',serif;font-size:26.62px;font-style:normal;font-weight:bold" fill="#f80808">H</text><text transform="translate(203.65,445.90) scale(0.927,1)" style="font-family:'Liberation Serif',serif;font-size:18.62px;font-style:normal;font-weight:normal" fill="#f80808">inc</text><text transform="translate(339.86,414.60) scale(0.988,1)" style="font-family:'Liberation Serif',serif;font-size:27.08px;font-style:normal;font-weight:bold" fill="#f80808">H</text><text transform="translate(361.65,419.70) scale(0.959,1)" style="font-family:'Liberation Serif',serif;font-size:18.00px;font-style:normal;font-weight:normal" fill="#f80808">inc</text><text transform="translate(129.17,419.00) scale(0.994,1)" style="font-family:'Liberation Serif',serif;font-size:27.23px;font-style:italic;font-weight:normal" fill="#159125">M</text><text transform="translate(151.82,421.03) scale(1.028,1)" style="font-family:'Liberation Serif',serif;font-size:17.46px;font-style:normal;font-weight:normal" fill="#159125">y</text><text transform="translate(278.58,446.60) scale(0.966,1)" style="font-family:'Liberation Serif',serif;font-size:28.62px;font-style:italic;font-weight:normal" fill="#159125">M</text><text transform="translate(301.31,447.86) scale(1.096,1)" style="font-family:'Liberation Serif',serif;font-size:17.31px;font-style:normal;font-weight:normal" fill="#159125">y</text><text transform="translate(448.28,417.60) scale(1.017,1)" style="font-family:'Liberation Serif',serif;font-size:27.08px;font-style:italic;font-weight:normal" fill="#159125">M</text><text transform="translate(471.73,419.26) scale(0.978,1)" style="font-family:'Liberation Serif',serif;font-size:17.31px;font-style:normal;font-weight:normal" fill="#159125">y</text>
</svg></body></html>
